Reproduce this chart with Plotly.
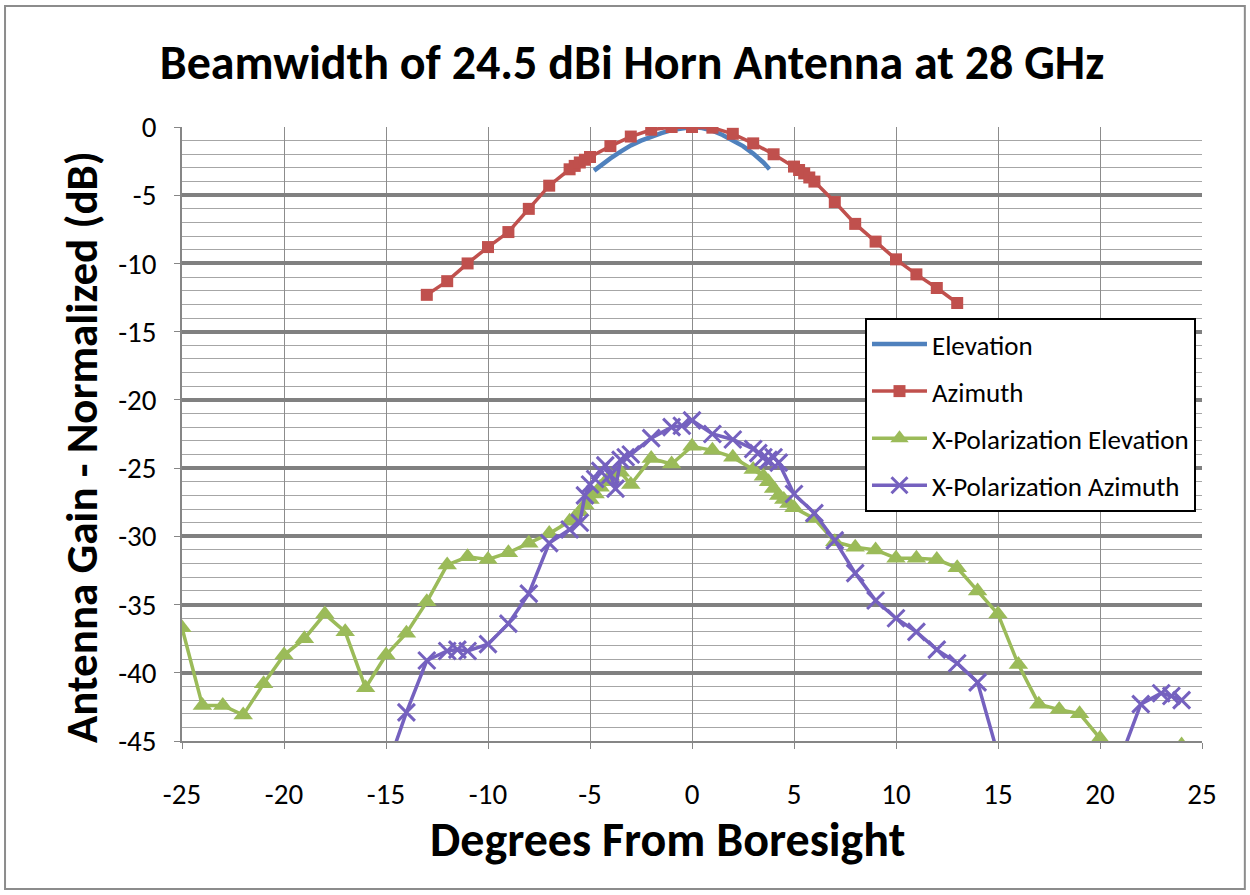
import plotly.graph_objects as go

# Elevation cut (co-polar), smooth measured curve
elev_deg = [-4.8, -4.5, -4, -3.5, -3, -2.5, -2, -1.5, -1, -0.5, 0, 0.5, 1, 1.5, 2, 2.5, 3, 3.5, 3.8]
elev_db = [-3.2, -2.85, -2.3, -1.8, -1.35, -1.0, -0.7, -0.45, -0.22, -0.07, 0, -0.08, -0.27, -0.58, -0.95, -1.4, -1.95, -2.6, -3.1]

# Azimuth cut (co-polar)
az_deg = [-13, -12, -11, -10, -9, -8, -7, -6, -5.75, -5.5, -5.25, -5, -4, -3, -2, -1, 0,
          1, 2, 3, 4, 5, 5.25, 5.5, 5.75, 6, 7, 8, 9, 10, 11, 12, 13]
az_db = [-12.3, -11.3, -10.0, -8.8, -7.7, -6.0, -4.3, -3.1, -2.85, -2.6, -2.4, -2.2, -1.4, -0.7, -0.2, 0.0, 0.0,
         -0.05, -0.5, -1.2, -2.0, -2.9, -3.15, -3.4, -3.7, -4.0, -5.5, -7.1, -8.4, -9.7, -10.8, -11.8, -12.9]

# Cross-polarized elevation cut
xel_deg = [-25, -24, -23, -22, -21, -20, -19, -18, -17, -16, -15, -14, -13, -12, -11, -10, -9, -8, -7, -6,
           -5.75, -5.5, -5.25, -5, -4.75, -4.5, -4.25, -4, -3.5, -3, -2, -1, 0, 1, 2, 3, 3.5, 3.75, 4, 4.25,
           4.5, 4.75, 5, 6, 7, 8, 9, 10, 11, 12, 13, 14, 15, 16, 17, 18, 19, 20, 21, 22, 23, 24]
xel_db = [-36.7, -42.4, -42.4, -43.1, -40.8, -38.7, -37.5, -35.7, -37.0, -41.1, -38.7, -37.1, -34.8, -32.1, -31.5, -31.7, -31.2, -30.5, -29.8, -28.9,
          -28.6, -28.2, -27.7, -27.3, -26.9, -26.4, -26.0, -25.6, -25.3, -26.2, -24.3, -24.7, -23.4, -23.7, -24.2, -25.1, -25.6, -26.0, -26.5, -27.0,
          -27.3, -27.6, -27.9, -28.7, -30.4, -30.8, -31.0, -31.6, -31.6, -31.7, -32.3, -34.0, -35.7, -39.4, -42.3, -42.7, -43.0, -44.8, -47.0, -48.0, -47.0, -45.3]

# Cross-polarized azimuth cut
xaz_deg = [-15, -14, -13, -12, -11.5, -11, -10, -9, -8, -7, -6, -5.5, -5.25, -5, -4.75, -4.5, -4.25, -4, -3.75,
           -3.5, -3.25, -3, -2, -1, -0.5, 0, 1, 2, 3, 3.25, 3.5, 3.75, 4, 4.25, 5, 6, 7, 8, 9, 10, 11, 12, 13, 14,
           15, 16, 17, 18, 19, 20, 21, 22, 23, 23.5, 24]
xaz_db = [-47.2, -42.9, -39.1, -38.4, -38.3, -38.4, -37.9, -36.4, -34.2, -30.5, -29.5, -29.0, -27.0, -26.2, -25.8, -25.2, -24.8, -25.5, -26.5,
          -24.4, -24.2, -24.0, -22.8, -22.0, -21.9, -21.5, -22.5, -22.9, -23.6, -23.9, -24.2, -24.4, -24.2, -24.6, -26.9, -28.3, -30.3, -32.7, -34.7, -36.0, -37.0, -38.3, -39.3, -40.7,
          -46.0, -52.0, -55.0, -53.0, -50.0, -48.0, -46.3, -42.3, -41.5, -41.7, -42.0]

x_ticks = [-25, -20, -15, -10, -5, 0, 5, 10, 15, 20, 25]
x_labels = ["-25", "-20", "-15", "-10", "-5", "0", "5", "10", "15", "20", "25"]
y_ticks = [0, -5, -10, -15, -20, -25, -30, -35, -40, -45]
y_labels = ["0", "-5", "-10", "-15", "-20", "-25", "-30", "-35", "-40", "-45"]

FONT = "Carlito, Calibri, Lato, sans-serif"
PURPLE = "#7561BF"

fig = go.Figure()
fig.add_trace(go.Scatter(x=elev_deg, y=elev_db, mode="lines", name="Elevation",
                         legendgroup="a", line=dict(color="#4F81BD", width=4.5)))
fig.add_trace(go.Scatter(x=az_deg, y=az_db, mode="lines+markers", name="Azimuth",
                         legendgroup="b", line=dict(color="#C0504D", width=3.5),
                         marker=dict(symbol="square", size=12, color="#C0504D")))
fig.add_trace(go.Scatter(x=xel_deg, y=xel_db, mode="lines+markers", name="X-Polarization Elevation",
                         legendgroup="c", line=dict(color="#9BBB59", width=3.5),
                         marker=dict(symbol="triangle-up", size=17, color="#9BBB59")))
fig.add_trace(go.Scatter(x=xaz_deg, y=xaz_db, mode="lines+markers", name="X-Polarization Azimuth",
                         legendgroup="d", line=dict(color=PURPLE, width=3.5),
                         marker=dict(symbol="x-thin", size=17, color=PURPLE,
                                     line=dict(color=PURPLE, width=3))))

fig.update_layout(
    width=1250, height=895,
    margin=dict(l=182, r=48, t=127, b=154),
    paper_bgcolor="white", plot_bgcolor="white",
    font=dict(family=FONT, color="black"),
    title=dict(text="<b>Beamwidth of 24.5 dBi Horn Antenna at 28 GHz</b>",
               x=0.5056, xanchor="center", y=0.9307, yanchor="middle",
               font=dict(family=FONT, size=48, color="black")),
    xaxis=dict(range=[-25, 25], tickvals=x_ticks, ticktext=x_labels, ticks="outside", ticklen=6,
               tickcolor="#868686", showline=True, linecolor="#868686", linewidth=1.5,
               showgrid=True, gridcolor="#8C8C8C", gridwidth=1, zeroline=False,
               tickfont=dict(size=29, family=FONT), ticklabelstandoff=20),
    yaxis=dict(range=[-45, 0], tickvals=y_ticks, ticktext=y_labels, ticks="outside", ticklen=6,
               tickcolor="#868686", showline=True, linecolor="#868686", linewidth=1.5,
               showgrid=True, gridcolor="#808080", gridwidth=3.5, zeroline=False,
               minor=dict(dtick=1, showgrid=True, gridcolor="#A6A6A6", gridwidth=1),
               tickfont=dict(size=29, family=FONT), ticklabelstandoff=12),
    legend=dict(x=0.6696, y=0.689, xanchor="left", yanchor="top",
                bgcolor="white", bordercolor="black", borderwidth=2,
                font=dict(size=27, family=FONT), tracegroupgap=9, itemwidth=55,
                traceorder="grouped"),
    annotations=[
        dict(text="<b>Antenna Gain - Normalized (dB)</b>", textangle=-90, showarrow=False,
             xref="paper", yref="paper", x=-0.098, y=0.479, xanchor="center", yanchor="middle",
             font=dict(size=45, family=FONT, color="black")),
        dict(text="<b>Degrees From Boresight</b>", showarrow=False,
             xref="paper", yref="paper", x=0.4755, y=-0.161, xanchor="center", yanchor="middle",
             font=dict(size=48, family=FONT, color="black")),
    ],
    shapes=[dict(type="rect", xref="paper", yref="paper", x0=-0.1735, x1=1.042, y0=-0.241, y1=1.197,
                 line=dict(color="#8C8C8C", width=2), layer="below")],
)

fig.write_html("out.html")
